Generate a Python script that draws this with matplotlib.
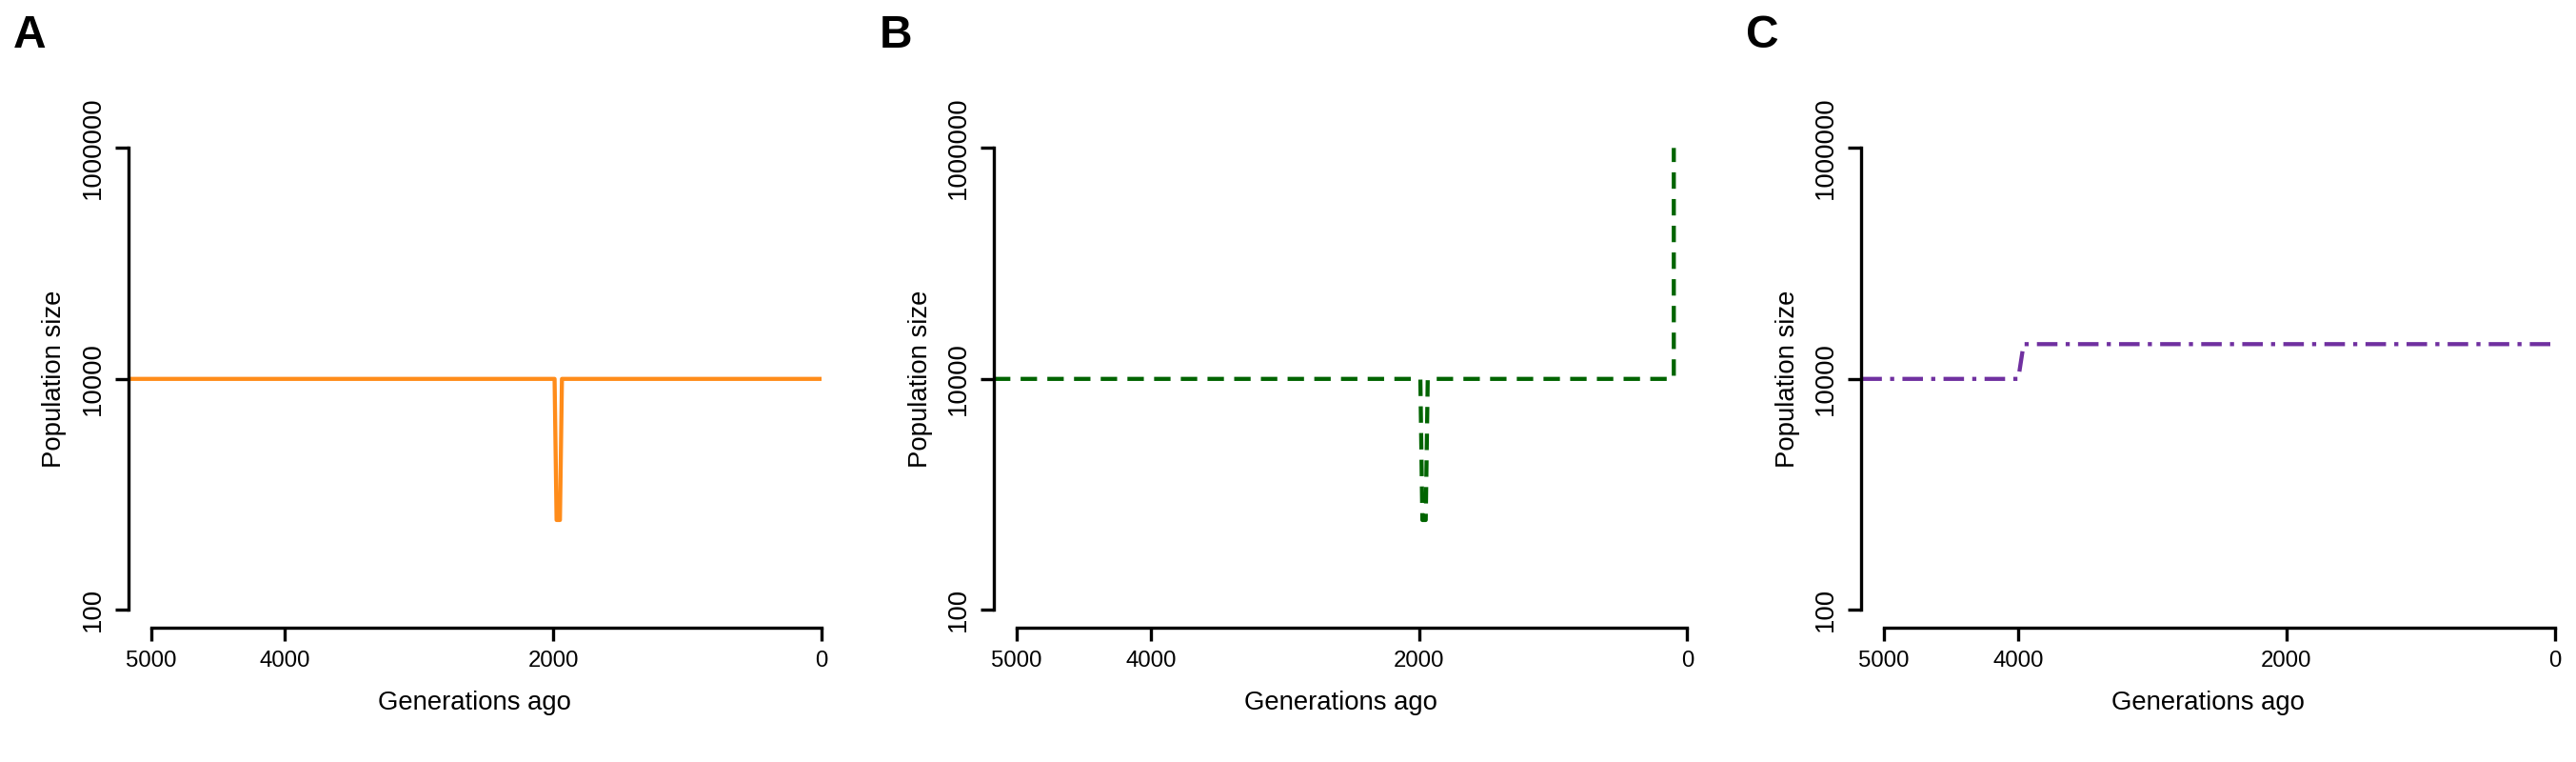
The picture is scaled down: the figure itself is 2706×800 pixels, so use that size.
import matplotlib
matplotlib.use("Agg")
import matplotlib.pyplot as plt

# data: (generations ago, population size)
gen_A = [5170, 1990, 1975, 1950, 1935, 0]
pop_A = [10000, 10000, 600, 600, 10000, 10000]
gen_B = [5170, 1990, 1975, 1950, 1935, 100, 100]
pop_B = [10000, 10000, 600, 600, 10000, 10000, 1000000]
gen_C = [5170, 4000, 3960, 0]
pop_C = [10000, 10000, 20000, 20000]
xticks_A = [5000, 4000, 2000, 0]
xticks_C = [5000, 4000, 2000, 0]
yticks = [100, 10000, 1000000]
letters = ["A", "B", "C"]

DPI = 2706 / 15.68
W, H = 1568, 800 / (2706 / 1568)
fig = plt.figure(figsize=(15.68, H / 100), dpi=DPI)
plt.rcParams['font.family'] = ['Liberation Sans', 'DejaVu Sans']
lefts = [78, 605, 1133]
panels = [(gen_A, pop_A, "#FF8C1A", "-", xticks_A),
          (gen_B, pop_B, "#006400", (0, (4, 2.5)), xticks_A),
          (gen_C, pop_C, "#7030A0", (0, (5, 2, 1, 2)), xticks_C)]
for i, (g, p, c, ls, xt) in enumerate(panels):
    l = lefts[i]
    ax = fig.add_axes([l/W, 1-371/H, 422/W, 281/H])
    ax.plot(g, p, color=c, ls=ls, lw=1.8)
    ax.set_yscale("log")
    ax.set_ylim(100, 1e6)
    ax.set_xlim(5170, 0)
    ax.minorticks_off()
    ax.set_yticks(yticks)
    ax.set_yticklabels([str(v) for v in yticks], rotation=90, va="center", fontsize=11.5)
    ax.set_xticks(xt)
    ax.set_xticklabels([str(v) for v in xt], fontsize=11.5)
    for s in ["top", "right"]:
        ax.spines[s].set_visible(False)
    ax.spines["bottom"].set_position(("outward", 8))
    ax.spines["bottom"].set_bounds(5000, 0)
    for s in ["left", "bottom"]:
        ax.spines[s].set_linewidth(1.4)
    ax.tick_params(width=1.4, length=6, pad=4)
    ax.set_xlabel("Generations ago", fontsize=11.5, labelpad=8)
    ax.set_ylabel("Population size", fontsize=11.5, labelpad=6)
    fig.text((l-70)/W, 1-22/H, letters[i], fontsize=20, fontweight="bold", va="center")
fig.savefig("out.png", dpi=DPI)
